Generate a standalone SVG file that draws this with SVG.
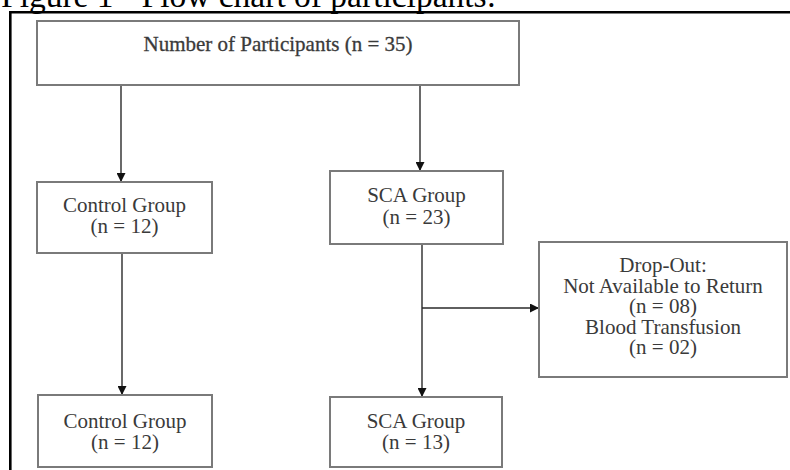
<svg xmlns="http://www.w3.org/2000/svg" width="790" height="470" viewBox="0 0 790 470">
  <style>
    .box { fill: #ffffff; stroke: #7a7a7a; stroke-width: 2; }
    .shadow { fill: none; stroke: #d8d8d8; stroke-width: 2; }
    .lbl { font-family: "Liberation Serif", "Times New Roman", serif; font-size: 21px; fill: #3a3a3a; text-anchor: middle; }
    .title { font-family: "Liberation Serif", "Times New Roman", serif; font-size: 33.5px; fill: #000000; }
    .conn { stroke: #2a2a2a; stroke-width: 1.4; fill: none; marker-end: url(#arrow); }
    .frame { stroke: #000000; fill: none; }
  </style>
  <defs>
    <marker id="arrow" markerUnits="userSpaceOnUse" markerWidth="9" markerHeight="9" refX="9" refY="4.5" orient="auto">
      <path d="M0,0 L9,4.5 L0,9 z" fill="#111111"/>
    </marker>
  </defs>
  <rect width="790" height="470" fill="#ffffff"/>

  <text class="title" x="1" y="7">Figure 1 - Flow chart of participants:</text>

  <g id="frame">
    <line class="frame" x1="9" y1="12.3" x2="790" y2="12.3" stroke-width="2.4"/>
    <line class="frame" x1="10.3" y1="11" x2="10.3" y2="470" stroke-width="2.6"/>
  </g>

  <g id="connectors">
    <line class="conn" x1="121" y1="85" x2="121" y2="182"/>
    <line class="conn" x1="420" y1="85" x2="420" y2="171"/>
    <line class="conn" x1="122" y1="253" x2="122" y2="395"/>
    <line class="conn" x1="422" y1="244" x2="422" y2="397"/>
    <line class="conn" x1="422" y1="308" x2="539" y2="308"/>
  </g>

  <g id="n-total">
    <rect class="box" x="37" y="21" width="482" height="64"/>
    <text class="lbl" x="278" y="51" font-size="22" stroke="#3a3a3a" stroke-width="0.3">Number of Participants (n = 35)</text>
  </g>

  <g id="n-control1">
    <rect class="box" x="37" y="182" width="175" height="71"/>
    <text class="lbl" x="124.5" y="212">Control Group</text>
    <text class="lbl" x="124.5" y="233">(n = 12)</text>
  </g>

  <g id="n-sca1">
    <rect class="box" x="330" y="171" width="173" height="73"/>
    <text class="lbl" x="416.5" y="202">SCA Group</text>
    <text class="lbl" x="416.5" y="224">(n = 23)</text>
  </g>

  <g id="n-dropout">
    <rect class="box" x="539" y="242" width="248" height="135"/>
    <text class="lbl" x="663" y="272">Drop-Out:</text>
    <text class="lbl" x="663" y="293">Not Available to Return</text>
    <text class="lbl" x="663" y="313">(n = 08)</text>
    <text class="lbl" x="663" y="334">Blood Transfusion</text>
    <text class="lbl" x="663" y="354">(n = 02)</text>
  </g>

  <g id="n-control2">
    <rect class="box" x="38" y="395" width="174" height="72"/>
    <text class="lbl" x="125" y="428">Control Group</text>
    <text class="lbl" x="125" y="449">(n = 12)</text>
  </g>

  <g id="n-sca2">
    <rect class="box" x="330" y="397" width="172" height="70"/>
    <text class="lbl" x="416" y="428">SCA Group</text>
    <text class="lbl" x="416" y="449">(n = 13)</text>
  </g>
</svg>
